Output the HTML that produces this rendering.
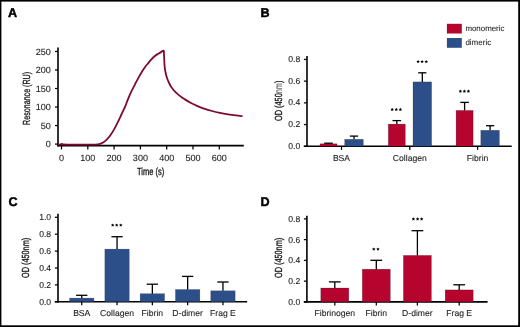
<!DOCTYPE html>
<html><head><meta charset="utf-8"><style>
html,body{margin:0;padding:0;background:#fff;overflow:hidden;}
svg{display:block;font-family:"Liberation Sans", sans-serif;will-change:transform;text-rendering:geometricPrecision;}
</style></head><body>
<svg width="520" height="327" viewBox="0 0 520 327">
<rect width="520" height="327" fill="#fff"/>
<rect x="0.00" y="0.00" width="520.00" height="1.60" fill="#000" />
<rect x="0.00" y="0.00" width="1.40" height="327.00" fill="#000" />
<rect x="518.20" y="0.00" width="1.80" height="327.00" fill="#000" />
<rect x="0.00" y="325.30" width="520.00" height="1.70" fill="#000" />
<text x="8.10" y="16.60" font-size="12.6" text-anchor="start" fill="#000" font-weight="bold" stroke="#000" stroke-width="0.45">A</text>
<text x="260.50" y="17.30" font-size="12.6" text-anchor="start" fill="#000" font-weight="bold" stroke="#000" stroke-width="0.45">B</text>
<text x="8.40" y="205.60" font-size="12.6" text-anchor="start" fill="#000" font-weight="bold" stroke="#000" stroke-width="0.45">C</text>
<text x="260.50" y="206.00" font-size="12.6" text-anchor="start" fill="#000" font-weight="bold" stroke="#000" stroke-width="0.45">D</text>
<line x1="58.00" y1="47.60" x2="58.00" y2="146.40" stroke="#000" stroke-width="1.6"/>
<line x1="57.30" y1="145.60" x2="243.80" y2="145.60" stroke="#000" stroke-width="1.6"/>
<line x1="55.00" y1="144.10" x2="58.00" y2="144.10" stroke="#000" stroke-width="1.25"/>
<text x="50.90" y="147.35" font-size="9.05" text-anchor="end" fill="#222" font-weight="normal"  stroke="#222" stroke-width="0.1">0</text>
<line x1="55.00" y1="125.57" x2="58.00" y2="125.57" stroke="#000" stroke-width="1.25"/>
<text x="50.90" y="128.82" font-size="9.05" text-anchor="end" fill="#222" font-weight="normal"  stroke="#222" stroke-width="0.1">50</text>
<line x1="55.00" y1="107.05" x2="58.00" y2="107.05" stroke="#000" stroke-width="1.25"/>
<text x="50.90" y="110.30" font-size="9.05" text-anchor="end" fill="#222" font-weight="normal"  stroke="#222" stroke-width="0.1">100</text>
<line x1="55.00" y1="88.52" x2="58.00" y2="88.52" stroke="#000" stroke-width="1.25"/>
<text x="50.90" y="91.77" font-size="9.05" text-anchor="end" fill="#222" font-weight="normal"  stroke="#222" stroke-width="0.1">150</text>
<line x1="55.00" y1="70.00" x2="58.00" y2="70.00" stroke="#000" stroke-width="1.25"/>
<text x="50.90" y="73.25" font-size="9.05" text-anchor="end" fill="#222" font-weight="normal"  stroke="#222" stroke-width="0.1">200</text>
<line x1="55.00" y1="51.47" x2="58.00" y2="51.47" stroke="#000" stroke-width="1.25"/>
<text x="50.90" y="54.72" font-size="9.05" text-anchor="end" fill="#222" font-weight="normal"  stroke="#222" stroke-width="0.1">250</text>
<line x1="61.50" y1="145.60" x2="61.50" y2="149.40" stroke="#000" stroke-width="1.25"/>
<text x="61.50" y="160.75" font-size="9.05" text-anchor="middle" fill="#222" font-weight="normal"  stroke="#222" stroke-width="0.1">0</text>
<line x1="87.80" y1="145.60" x2="87.80" y2="149.40" stroke="#000" stroke-width="1.25"/>
<text x="87.80" y="160.75" font-size="9.05" text-anchor="middle" fill="#222" font-weight="normal"  stroke="#222" stroke-width="0.1">100</text>
<line x1="114.10" y1="145.60" x2="114.10" y2="149.40" stroke="#000" stroke-width="1.25"/>
<text x="114.10" y="160.75" font-size="9.05" text-anchor="middle" fill="#222" font-weight="normal"  stroke="#222" stroke-width="0.1">200</text>
<line x1="140.40" y1="145.60" x2="140.40" y2="149.40" stroke="#000" stroke-width="1.25"/>
<text x="140.40" y="160.75" font-size="9.05" text-anchor="middle" fill="#222" font-weight="normal"  stroke="#222" stroke-width="0.1">300</text>
<line x1="166.70" y1="145.60" x2="166.70" y2="149.40" stroke="#000" stroke-width="1.25"/>
<text x="166.70" y="160.75" font-size="9.05" text-anchor="middle" fill="#222" font-weight="normal"  stroke="#222" stroke-width="0.1">400</text>
<line x1="193.00" y1="145.60" x2="193.00" y2="149.40" stroke="#000" stroke-width="1.25"/>
<text x="193.00" y="160.75" font-size="9.05" text-anchor="middle" fill="#222" font-weight="normal"  stroke="#222" stroke-width="0.1">500</text>
<line x1="219.30" y1="145.60" x2="219.30" y2="149.40" stroke="#000" stroke-width="1.25"/>
<text x="219.30" y="160.75" font-size="9.05" text-anchor="middle" fill="#222" font-weight="normal"  stroke="#222" stroke-width="0.1">600</text>
<text x="150.60" y="175.10" font-size="10.3" text-anchor="middle" fill="#111" font-weight="normal" textLength="27.2" lengthAdjust="spacingAndGlyphs" stroke="#111" stroke-width="0.3">Time (s)</text>
<text transform="translate(29.5,98.4) rotate(-90)" font-size="10.3" text-anchor="middle" fill="#111" textLength="53.0" lengthAdjust="spacingAndGlyphs" stroke="#111" stroke-width="0.3">Resonance (RU)</text>
<path d="M58.30,144.60 C58.75,144.55 60.38,144.42 61.00,144.30 C61.62,144.18 61.67,143.88 62.00,143.90 C62.33,143.92 61.67,144.28 63.00,144.40 C64.33,144.52 67.17,144.57 70.00,144.60 C72.83,144.63 76.67,144.60 80.00,144.60 C83.33,144.60 87.50,144.60 90.00,144.60 C92.50,144.60 93.43,144.68 95.00,144.60 C96.57,144.52 98.05,144.43 99.40,144.10 C100.75,143.77 101.88,143.35 103.10,142.60 C104.32,141.85 105.48,140.83 106.70,139.60 C107.92,138.37 109.17,136.90 110.40,135.20 C111.63,133.50 112.87,131.57 114.10,129.40 C115.33,127.23 116.58,124.68 117.80,122.20 C119.02,119.72 120.18,117.10 121.40,114.50 C122.62,111.90 124.07,108.98 125.10,106.60 C126.13,104.22 126.65,102.53 127.60,100.20 C128.55,97.87 129.60,95.17 130.80,92.60 C132.00,90.03 133.52,87.30 134.80,84.80 C136.08,82.30 137.28,79.83 138.50,77.60 C139.72,75.37 140.88,73.33 142.10,71.40 C143.32,69.47 144.80,67.35 145.80,66.00 C146.80,64.65 147.22,64.35 148.10,63.30 C148.98,62.25 149.97,60.92 151.10,59.70 C152.23,58.48 153.62,57.05 154.90,56.00 C156.18,54.95 157.32,54.35 158.80,53.40 C160.28,52.45 162.97,50.82 163.80,50.30" fill="none" stroke="#7f0a30" stroke-width="1.8" stroke-linejoin="round"/>
<path d="M163.80,50.30 C163.85,51.33 163.97,53.87 164.10,56.50 C164.23,59.13 164.37,63.48 164.60,66.10 C164.83,68.72 165.08,70.17 165.50,72.20 C165.92,74.23 166.38,76.25 167.10,78.30 C167.82,80.35 168.98,82.88 169.80,84.51 C170.62,86.14 171.13,86.89 172.00,88.08 C172.87,89.27 174.00,90.57 175.00,91.62 C176.00,92.67 176.83,93.41 178.00,94.39 C179.17,95.37 180.67,96.52 182.00,97.48 C183.33,98.44 184.50,99.22 186.00,100.14 C187.50,101.06 189.17,102.04 191.00,102.99 C192.83,103.94 194.83,104.92 197.00,105.85 C199.17,106.78 201.50,107.70 204.00,108.56 C206.50,109.42 209.33,110.28 212.00,111.00 C214.67,111.72 217.33,112.33 220.00,112.89 C222.67,113.45 225.33,113.92 228.00,114.35 C230.67,114.78 233.58,115.17 236.00,115.48 C238.42,115.79 241.42,116.08 242.50,116.20" fill="none" stroke="#7f0a30" stroke-width="1.8" stroke-linejoin="round"/>
<line x1="307.00" y1="56.10" x2="307.00" y2="147.00" stroke="#000" stroke-width="1.6"/>
<line x1="303.80" y1="146.30" x2="511.70" y2="146.30" stroke="#000" stroke-width="1.6"/>
<line x1="303.90" y1="146.30" x2="307.00" y2="146.30" stroke="#000" stroke-width="1.25"/>
<text x="300.30" y="148.90" font-size="8.6" text-anchor="end" fill="#222" font-weight="normal"  stroke="#222" stroke-width="0.1">0.0</text>
<line x1="303.90" y1="124.58" x2="307.00" y2="124.58" stroke="#000" stroke-width="1.25"/>
<text x="300.30" y="127.18" font-size="8.6" text-anchor="end" fill="#222" font-weight="normal"  stroke="#222" stroke-width="0.1">0.2</text>
<line x1="303.90" y1="102.86" x2="307.00" y2="102.86" stroke="#000" stroke-width="1.25"/>
<text x="300.30" y="105.46" font-size="8.6" text-anchor="end" fill="#222" font-weight="normal"  stroke="#222" stroke-width="0.1">0.4</text>
<line x1="303.90" y1="81.14" x2="307.00" y2="81.14" stroke="#000" stroke-width="1.25"/>
<text x="300.30" y="83.74" font-size="8.6" text-anchor="end" fill="#222" font-weight="normal"  stroke="#222" stroke-width="0.1">0.6</text>
<line x1="303.90" y1="59.42" x2="307.00" y2="59.42" stroke="#000" stroke-width="1.25"/>
<text x="300.30" y="62.02" font-size="8.6" text-anchor="end" fill="#222" font-weight="normal"  stroke="#222" stroke-width="0.1">0.8</text>
<line x1="341.50" y1="146.30" x2="341.50" y2="149.90" stroke="#000" stroke-width="1.25"/>
<text x="341.50" y="160.60" font-size="8.6" text-anchor="middle" fill="#222" font-weight="normal"  stroke="#222" stroke-width="0.1">BSA</text>
<line x1="409.80" y1="146.30" x2="409.80" y2="149.90" stroke="#000" stroke-width="1.25"/>
<text x="409.80" y="160.60" font-size="8.6" text-anchor="middle" fill="#222" font-weight="normal"  stroke="#222" stroke-width="0.1">Collagen</text>
<line x1="477.60" y1="146.30" x2="477.60" y2="149.90" stroke="#000" stroke-width="1.25"/>
<text x="477.60" y="160.60" font-size="8.6" text-anchor="middle" fill="#222" font-weight="normal"  stroke="#222" stroke-width="0.1">Fibrin</text>
<rect x="320.00" y="143.80" width="17.00" height="2.50" fill="#b5052e" stroke="#000" stroke-opacity="0.35" stroke-width="0.5"/>
<rect x="344.70" y="139.30" width="18.60" height="7.00" fill="#2d4f89" stroke="#000" stroke-opacity="0.35" stroke-width="0.5"/>
<line x1="328.50" y1="143.80" x2="328.50" y2="143.20" stroke="#000" stroke-width="1.3"/>
<line x1="324.20" y1="143.20" x2="332.80" y2="143.20" stroke="#000" stroke-width="1.3"/>
<line x1="354.00" y1="139.30" x2="354.00" y2="136.10" stroke="#000" stroke-width="1.3"/>
<line x1="349.90" y1="136.10" x2="358.10" y2="136.10" stroke="#000" stroke-width="1.3"/>
<rect x="388.30" y="124.10" width="17.00" height="22.20" fill="#b5052e" stroke="#000" stroke-opacity="0.35" stroke-width="0.5"/>
<rect x="413.00" y="81.90" width="18.60" height="64.40" fill="#2d4f89" stroke="#000" stroke-opacity="0.35" stroke-width="0.5"/>
<line x1="396.80" y1="124.10" x2="396.80" y2="120.60" stroke="#000" stroke-width="1.3"/>
<line x1="392.50" y1="120.60" x2="401.10" y2="120.60" stroke="#000" stroke-width="1.3"/>
<line x1="422.30" y1="81.90" x2="422.30" y2="72.80" stroke="#000" stroke-width="1.3"/>
<line x1="418.20" y1="72.80" x2="426.40" y2="72.80" stroke="#000" stroke-width="1.3"/>
<rect x="456.10" y="110.40" width="17.00" height="35.90" fill="#b5052e" stroke="#000" stroke-opacity="0.35" stroke-width="0.5"/>
<rect x="480.80" y="130.30" width="18.60" height="16.00" fill="#2d4f89" stroke="#000" stroke-opacity="0.35" stroke-width="0.5"/>
<line x1="464.60" y1="110.40" x2="464.60" y2="102.40" stroke="#000" stroke-width="1.3"/>
<line x1="460.30" y1="102.40" x2="468.90" y2="102.40" stroke="#000" stroke-width="1.3"/>
<line x1="490.10" y1="130.30" x2="490.10" y2="125.70" stroke="#000" stroke-width="1.3"/>
<line x1="486.00" y1="125.70" x2="494.20" y2="125.70" stroke="#000" stroke-width="1.3"/>
<polygon points="392.20,107.80 392.76,108.78 393.86,109.01 393.10,109.84 393.23,110.97 392.20,110.50 391.17,110.97 391.30,109.84 390.54,109.01 391.64,108.78" fill="#000"/>
<polygon points="396.30,107.80 396.86,108.78 397.96,109.01 397.20,109.84 397.33,110.97 396.30,110.50 395.27,110.97 395.40,109.84 394.64,109.01 395.74,108.78" fill="#000"/>
<polygon points="400.40,107.80 400.96,108.78 402.06,109.01 401.30,109.84 401.43,110.97 400.40,110.50 399.37,110.97 399.50,109.84 398.74,109.01 399.84,108.78" fill="#000"/>
<polygon points="418.10,59.90 418.66,60.88 419.76,61.11 419.00,61.94 419.13,63.07 418.10,62.60 417.07,63.07 417.20,61.94 416.44,61.11 417.54,60.88" fill="#000"/>
<polygon points="422.10,59.90 422.66,60.88 423.76,61.11 423.00,61.94 423.13,63.07 422.10,62.60 421.07,63.07 421.20,61.94 420.44,61.11 421.54,60.88" fill="#000"/>
<polygon points="426.25,59.90 426.81,60.88 427.91,61.11 427.15,61.94 427.28,63.07 426.25,62.60 425.22,63.07 425.35,61.94 424.59,61.11 425.69,60.88" fill="#000"/>
<polygon points="460.40,89.60 460.96,90.58 462.06,90.81 461.30,91.64 461.43,92.77 460.40,92.30 459.37,92.77 459.50,91.64 458.74,90.81 459.84,90.58" fill="#000"/>
<polygon points="464.40,89.60 464.96,90.58 466.06,90.81 465.30,91.64 465.43,92.77 464.40,92.30 463.37,92.77 463.50,91.64 462.74,90.81 463.84,90.58" fill="#000"/>
<polygon points="468.40,89.60 468.96,90.58 470.06,90.81 469.30,91.64 469.43,92.77 468.40,92.30 467.37,92.77 467.50,91.64 466.74,90.81 467.84,90.58" fill="#000"/>
<text transform="translate(281.6,100.8) rotate(-90)" font-size="10.3" text-anchor="middle" fill="#111" textLength="40.3" lengthAdjust="spacingAndGlyphs" stroke="#111" stroke-width="0.3">OD (450<tspan fill="#777" stroke="#777">nm</tspan>)</text>
<rect x="446.90" y="23.80" width="14.90" height="9.70" fill="#b5052e" />
<rect x="446.90" y="38.00" width="14.90" height="9.80" fill="#2d4f89" />
<text x="465.40" y="31.30" font-size="7.9" text-anchor="start" fill="#2a2a2a" font-weight="normal"  stroke="#2a2a2a" stroke-width="0.1">monomeric</text>
<text x="465.40" y="45.00" font-size="8.0" text-anchor="start" fill="#2a2a2a" font-weight="normal"  stroke="#2a2a2a" stroke-width="0.1">dimeric</text>
<line x1="58.00" y1="213.80" x2="58.00" y2="302.50" stroke="#000" stroke-width="1.6"/>
<line x1="54.80" y1="301.80" x2="247.20" y2="301.80" stroke="#000" stroke-width="1.6"/>
<line x1="54.90" y1="301.80" x2="58.00" y2="301.80" stroke="#000" stroke-width="1.25"/>
<text x="51.10" y="304.85" font-size="8.6" text-anchor="end" fill="#222" font-weight="normal"  stroke="#222" stroke-width="0.1">0.0</text>
<line x1="54.90" y1="284.90" x2="58.00" y2="284.90" stroke="#000" stroke-width="1.25"/>
<text x="51.10" y="287.95" font-size="8.6" text-anchor="end" fill="#222" font-weight="normal"  stroke="#222" stroke-width="0.1">0.2</text>
<line x1="54.90" y1="268.00" x2="58.00" y2="268.00" stroke="#000" stroke-width="1.25"/>
<text x="51.10" y="271.05" font-size="8.6" text-anchor="end" fill="#222" font-weight="normal"  stroke="#222" stroke-width="0.1">0.4</text>
<line x1="54.90" y1="251.10" x2="58.00" y2="251.10" stroke="#000" stroke-width="1.25"/>
<text x="51.10" y="254.15" font-size="8.6" text-anchor="end" fill="#222" font-weight="normal"  stroke="#222" stroke-width="0.1">0.6</text>
<line x1="54.90" y1="234.20" x2="58.00" y2="234.20" stroke="#000" stroke-width="1.25"/>
<text x="51.10" y="237.25" font-size="8.6" text-anchor="end" fill="#222" font-weight="normal"  stroke="#222" stroke-width="0.1">0.8</text>
<line x1="54.90" y1="217.30" x2="58.00" y2="217.30" stroke="#000" stroke-width="1.25"/>
<text x="51.10" y="220.35" font-size="8.6" text-anchor="end" fill="#222" font-weight="normal"  stroke="#222" stroke-width="0.1">1.0</text>
<rect x="69.55" y="298.10" width="24.40" height="3.70" fill="#2d4f89" stroke="#000" stroke-opacity="0.35" stroke-width="0.5"/>
<line x1="81.75" y1="298.10" x2="81.75" y2="295.30" stroke="#000" stroke-width="1.3"/>
<line x1="76.10" y1="295.30" x2="87.40" y2="295.30" stroke="#000" stroke-width="1.3"/>
<line x1="81.75" y1="301.80" x2="81.75" y2="305.20" stroke="#000" stroke-width="1.25"/>
<text x="81.75" y="316.20" font-size="8.6" text-anchor="middle" fill="#222" font-weight="normal"  stroke="#222" stroke-width="0.1">BSA</text>
<rect x="104.85" y="249.10" width="24.40" height="52.70" fill="#2d4f89" stroke="#000" stroke-opacity="0.35" stroke-width="0.5"/>
<line x1="117.05" y1="249.10" x2="117.05" y2="236.70" stroke="#000" stroke-width="1.3"/>
<line x1="111.40" y1="236.70" x2="122.70" y2="236.70" stroke="#000" stroke-width="1.3"/>
<line x1="117.05" y1="301.80" x2="117.05" y2="305.20" stroke="#000" stroke-width="1.25"/>
<text x="117.05" y="316.20" font-size="8.6" text-anchor="middle" fill="#222" font-weight="normal"  stroke="#222" stroke-width="0.1">Collagen</text>
<rect x="140.15" y="293.70" width="24.40" height="8.10" fill="#2d4f89" stroke="#000" stroke-opacity="0.35" stroke-width="0.5"/>
<line x1="152.35" y1="293.70" x2="152.35" y2="284.20" stroke="#000" stroke-width="1.3"/>
<line x1="146.70" y1="284.20" x2="158.00" y2="284.20" stroke="#000" stroke-width="1.3"/>
<line x1="152.35" y1="301.80" x2="152.35" y2="305.20" stroke="#000" stroke-width="1.25"/>
<text x="152.35" y="316.20" font-size="8.6" text-anchor="middle" fill="#222" font-weight="normal"  stroke="#222" stroke-width="0.1">Fibrin</text>
<rect x="175.45" y="289.50" width="24.40" height="12.30" fill="#2d4f89" stroke="#000" stroke-opacity="0.35" stroke-width="0.5"/>
<line x1="187.65" y1="289.50" x2="187.65" y2="276.40" stroke="#000" stroke-width="1.3"/>
<line x1="182.00" y1="276.40" x2="193.30" y2="276.40" stroke="#000" stroke-width="1.3"/>
<line x1="187.65" y1="301.80" x2="187.65" y2="305.20" stroke="#000" stroke-width="1.25"/>
<text x="187.65" y="316.20" font-size="8.6" text-anchor="middle" fill="#222" font-weight="normal"  stroke="#222" stroke-width="0.1">D-dimer</text>
<rect x="210.75" y="290.80" width="24.40" height="11.00" fill="#2d4f89" stroke="#000" stroke-opacity="0.35" stroke-width="0.5"/>
<line x1="222.95" y1="290.80" x2="222.95" y2="282.00" stroke="#000" stroke-width="1.3"/>
<line x1="217.30" y1="282.00" x2="228.60" y2="282.00" stroke="#000" stroke-width="1.3"/>
<line x1="222.95" y1="301.80" x2="222.95" y2="305.20" stroke="#000" stroke-width="1.25"/>
<text x="222.95" y="316.20" font-size="8.6" text-anchor="middle" fill="#222" font-weight="normal"  stroke="#222" stroke-width="0.1">Frag E</text>
<polygon points="112.70,223.40 113.26,224.38 114.36,224.61 113.60,225.44 113.73,226.57 112.70,226.10 111.67,226.57 111.80,225.44 111.04,224.61 112.14,224.38" fill="#000"/>
<polygon points="116.70,223.40 117.26,224.38 118.36,224.61 117.60,225.44 117.73,226.57 116.70,226.10 115.67,226.57 115.80,225.44 115.04,224.61 116.14,224.38" fill="#000"/>
<polygon points="120.80,223.40 121.36,224.38 122.46,224.61 121.70,225.44 121.83,226.57 120.80,226.10 119.77,226.57 119.90,225.44 119.14,224.61 120.24,224.38" fill="#000"/>
<text transform="translate(29.4,257.9) rotate(-90)" font-size="10.3" text-anchor="middle" fill="#111" textLength="40.1" lengthAdjust="spacingAndGlyphs" stroke="#111" stroke-width="0.3">OD (450nm)</text>
<line x1="306.90" y1="215.80" x2="306.90" y2="302.60" stroke="#000" stroke-width="1.6"/>
<line x1="303.80" y1="301.90" x2="487.60" y2="301.90" stroke="#000" stroke-width="1.6"/>
<line x1="303.90" y1="301.90" x2="306.90" y2="301.90" stroke="#000" stroke-width="1.25"/>
<text x="300.30" y="304.95" font-size="8.6" text-anchor="end" fill="#222" font-weight="normal"  stroke="#222" stroke-width="0.1">0.0</text>
<line x1="303.90" y1="281.14" x2="306.90" y2="281.14" stroke="#000" stroke-width="1.25"/>
<text x="300.30" y="284.19" font-size="8.6" text-anchor="end" fill="#222" font-weight="normal"  stroke="#222" stroke-width="0.1">0.2</text>
<line x1="303.90" y1="260.38" x2="306.90" y2="260.38" stroke="#000" stroke-width="1.25"/>
<text x="300.30" y="263.43" font-size="8.6" text-anchor="end" fill="#222" font-weight="normal"  stroke="#222" stroke-width="0.1">0.4</text>
<line x1="303.90" y1="239.62" x2="306.90" y2="239.62" stroke="#000" stroke-width="1.25"/>
<text x="300.30" y="242.67" font-size="8.6" text-anchor="end" fill="#222" font-weight="normal"  stroke="#222" stroke-width="0.1">0.6</text>
<line x1="303.90" y1="218.86" x2="306.90" y2="218.86" stroke="#000" stroke-width="1.25"/>
<text x="300.30" y="221.91" font-size="8.6" text-anchor="end" fill="#222" font-weight="normal"  stroke="#222" stroke-width="0.1">0.8</text>
<rect x="320.80" y="288.00" width="28.00" height="13.90" fill="#b5052e" stroke="#000" stroke-opacity="0.35" stroke-width="0.5"/>
<line x1="334.80" y1="288.00" x2="334.80" y2="281.90" stroke="#000" stroke-width="1.3"/>
<line x1="328.90" y1="281.90" x2="340.70" y2="281.90" stroke="#000" stroke-width="1.3"/>
<line x1="334.80" y1="301.90" x2="334.80" y2="305.50" stroke="#000" stroke-width="1.25"/>
<text x="334.80" y="316.00" font-size="8.6" text-anchor="middle" fill="#222" font-weight="normal"  stroke="#222" stroke-width="0.1">Fibrinogen</text>
<rect x="362.30" y="269.20" width="28.00" height="32.70" fill="#b5052e" stroke="#000" stroke-opacity="0.35" stroke-width="0.5"/>
<line x1="376.30" y1="269.20" x2="376.30" y2="260.30" stroke="#000" stroke-width="1.3"/>
<line x1="370.40" y1="260.30" x2="382.20" y2="260.30" stroke="#000" stroke-width="1.3"/>
<line x1="376.30" y1="301.90" x2="376.30" y2="305.50" stroke="#000" stroke-width="1.25"/>
<text x="376.30" y="316.00" font-size="8.6" text-anchor="middle" fill="#222" font-weight="normal"  stroke="#222" stroke-width="0.1">Fibrin</text>
<rect x="403.40" y="255.40" width="28.00" height="46.50" fill="#b5052e" stroke="#000" stroke-opacity="0.35" stroke-width="0.5"/>
<line x1="417.40" y1="255.40" x2="417.40" y2="230.70" stroke="#000" stroke-width="1.3"/>
<line x1="411.50" y1="230.70" x2="423.30" y2="230.70" stroke="#000" stroke-width="1.3"/>
<line x1="417.40" y1="301.90" x2="417.40" y2="305.50" stroke="#000" stroke-width="1.25"/>
<text x="417.40" y="316.00" font-size="8.6" text-anchor="middle" fill="#222" font-weight="normal"  stroke="#222" stroke-width="0.1">D-dimer</text>
<rect x="445.20" y="289.90" width="28.00" height="12.00" fill="#b5052e" stroke="#000" stroke-opacity="0.35" stroke-width="0.5"/>
<line x1="459.20" y1="289.90" x2="459.20" y2="284.80" stroke="#000" stroke-width="1.3"/>
<line x1="453.30" y1="284.80" x2="465.10" y2="284.80" stroke="#000" stroke-width="1.3"/>
<line x1="459.20" y1="301.90" x2="459.20" y2="305.50" stroke="#000" stroke-width="1.25"/>
<text x="459.20" y="316.00" font-size="8.6" text-anchor="middle" fill="#222" font-weight="normal"  stroke="#222" stroke-width="0.1">Frag E</text>
<polygon points="373.80,247.40 374.36,248.38 375.46,248.61 374.70,249.44 374.83,250.57 373.80,250.10 372.77,250.57 372.90,249.44 372.14,248.61 373.24,248.38" fill="#000"/>
<polygon points="378.00,247.40 378.56,248.38 379.66,248.61 378.90,249.44 379.03,250.57 378.00,250.10 376.97,250.57 377.10,249.44 376.34,248.61 377.44,248.38" fill="#000"/>
<polygon points="413.40,217.30 413.96,218.28 415.06,218.51 414.30,219.34 414.43,220.47 413.40,220.00 412.37,220.47 412.50,219.34 411.74,218.51 412.84,218.28" fill="#000"/>
<polygon points="417.60,217.30 418.16,218.28 419.26,218.51 418.50,219.34 418.63,220.47 417.60,220.00 416.57,220.47 416.70,219.34 415.94,218.51 417.04,218.28" fill="#000"/>
<polygon points="421.60,217.30 422.16,218.28 423.26,218.51 422.50,219.34 422.63,220.47 421.60,220.00 420.57,220.47 420.70,219.34 419.94,218.51 421.04,218.28" fill="#000"/>
<text transform="translate(281.7,257.9) rotate(-90)" font-size="10.3" text-anchor="middle" fill="#111" textLength="40.1" lengthAdjust="spacingAndGlyphs" stroke="#111" stroke-width="0.3">OD (450nm)</text>
</svg>
</body></html>
